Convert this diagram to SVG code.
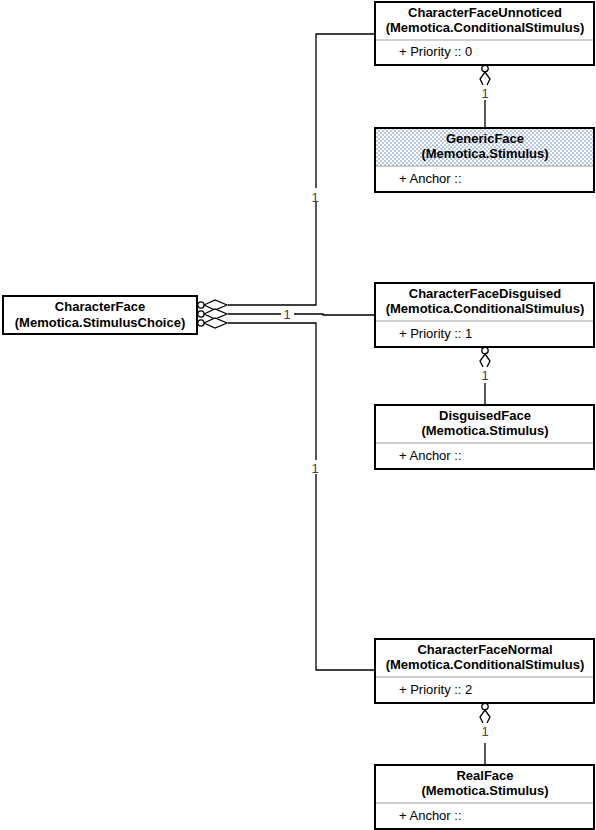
<svg xmlns="http://www.w3.org/2000/svg" width="596" height="830" viewBox="0 0 596 830">
<defs>
<pattern id="dots" patternUnits="userSpaceOnUse" width="4" height="4">
<rect width="4" height="4" fill="#ffffff"/>
<rect x="0" y="0" width="2" height="2" fill="#b9c8e4"/>
<rect x="2" y="2" width="2" height="2" fill="#b9c8e4"/>
</pattern>
<g id="navsym">
<circle cx="0" cy="3.5" r="3.2" fill="#fff" stroke="#000" stroke-width="1.3"/>
<path d="M0,7 L-5,14 L-2,20 M0,7 L5,14 L2,20" fill="none" stroke="#000" stroke-width="1.3"/>
</g>
<g id="aggsym">
<circle cx="3" cy="0" r="3.2" fill="#fff" stroke="#000" stroke-width="1.2"/>
<path d="M6,0 L17,-5 L29,0 L17,5 Z" fill="#fff" stroke="#000" stroke-width="1.2"/>
</g>
</defs>
<style>
.box{fill:#fff;stroke:#000;stroke-width:2}
.div{stroke:#a0a0a0;stroke-width:1}
.h{font-family:"Liberation Sans",Arial,sans-serif;font-size:13px;font-weight:bold;text-anchor:middle;fill:#000}
.a{font-family:"Liberation Sans",Arial,sans-serif;font-size:13px;fill:#000}
.lbl{font-family:"Liberation Sans",Arial,sans-serif;font-size:13px;fill:#444;text-anchor:middle}
.ln{fill:none;stroke:#000;stroke-width:1.3}
</style>
<g id="connectors">
<path class="ln" d="M228,305 H316 V34 H375"/>
<path class="ln" d="M228,314 H281 M294,314 H323 V315 H375"/>
<path class="ln" d="M228,323 H316 V670 H375"/>
<rect x="309" y="188" width="14" height="14" fill="#fff"/>
<text class="lbl" x="315" y="202">1</text>
<text class="lbl" x="287" y="319">1</text>
<rect x="309" y="460" width="14" height="14" fill="#fff"/>
<text class="lbl" x="315" y="473">1</text>
<use href="#aggsym" x="198" y="305"/>
<use href="#aggsym" x="198" y="314"/>
<use href="#aggsym" x="198" y="323"/>
<path class="ln" d="M485,100 V128"/>
<use href="#navsym" x="485" y="65"/>
<text class="lbl" x="485" y="98">1</text>
<path class="ln" d="M485,383 V405"/>
<use href="#navsym" x="485" y="347"/>
<text class="lbl" x="485" y="380">1</text>
<path class="ln" d="M485,743 V765"/>
<use href="#navsym" x="485" y="703"/>
<text class="lbl" x="485" y="736">1</text>
</g>
<g id="CharacterFace">
<rect class="box" x="3" y="296" width="194" height="38"/>
<text class="h" x="100" y="311">CharacterFace</text>
<text class="h" x="100" y="327">(Memotica.StimulusChoice)</text>
</g>
<g id="CharacterFaceUnnoticed">
<rect class="box" x="375" y="2" width="219" height="63"/>
<line class="div" x1="376" y1="40" x2="593" y2="40"/>
<text class="h" x="485" y="17">CharacterFaceUnnoticed</text>
<text class="h" x="485" y="32">(Memotica.ConditionalStimulus)</text>
<text class="a" x="399" y="56">+ Priority :: 0</text>
</g>
<g id="GenericFace">
<rect class="box" x="375" y="128" width="219" height="64"/>
<rect x="376" y="129" width="217" height="37" fill="url(#dots)"/>
<line class="div" x1="376" y1="166" x2="593" y2="166"/>
<text class="h" x="485" y="143">GenericFace</text>
<text class="h" x="485" y="158">(Memotica.Stimulus)</text>
<text class="a" x="399" y="183">+ Anchor ::</text>
</g>
<g id="CharacterFaceDisguised">
<rect class="box" x="375" y="283" width="219" height="64"/>
<line class="div" x1="376" y1="321" x2="593" y2="321"/>
<text class="h" x="485" y="298">CharacterFaceDisguised</text>
<text class="h" x="485" y="313">(Memotica.ConditionalStimulus)</text>
<text class="a" x="399" y="338">+ Priority :: 1</text>
</g>
<g id="DisguisedFace">
<rect class="box" x="375" y="405" width="219" height="64"/>
<line class="div" x1="376" y1="443" x2="593" y2="443"/>
<text class="h" x="485" y="420">DisguisedFace</text>
<text class="h" x="485" y="435">(Memotica.Stimulus)</text>
<text class="a" x="399" y="460">+ Anchor ::</text>
</g>
<g id="CharacterFaceNormal">
<rect class="box" x="375" y="639" width="219" height="64"/>
<line class="div" x1="376" y1="677" x2="593" y2="677"/>
<text class="h" x="485" y="654">CharacterFaceNormal</text>
<text class="h" x="485" y="669">(Memotica.ConditionalStimulus)</text>
<text class="a" x="399" y="694">+ Priority :: 2</text>
</g>
<g id="RealFace">
<rect class="box" x="375" y="765" width="219" height="64"/>
<line class="div" x1="376" y1="803" x2="593" y2="803"/>
<text class="h" x="485" y="780">RealFace</text>
<text class="h" x="485" y="795">(Memotica.Stimulus)</text>
<text class="a" x="399" y="820">+ Anchor ::</text>
</g>
</svg>
